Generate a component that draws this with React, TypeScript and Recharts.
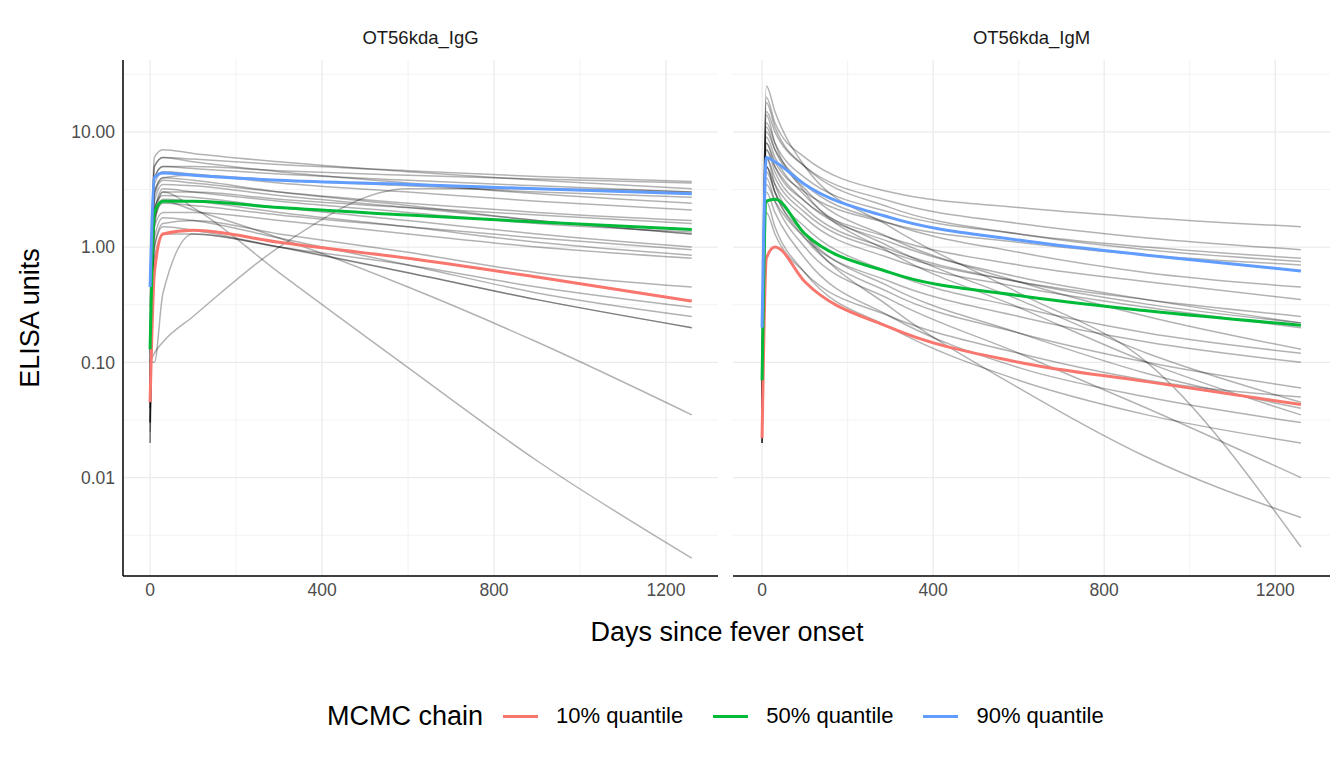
import { CartesianGrid, Line, LineChart, XAxis, YAxis } from "recharts";

const days = [0, 10, 30, 100, 300, 600, 900, 1260];

const iggDraws: number[][] = [
  [0.03, 4, 5, 5, 4.6, 4.2, 3.9, 3.6],
  [0.05, 3, 4, 4.2, 3.8, 3.4, 3.0, 2.7],
  [0.1, 5, 6, 5.8, 5.2, 4.6, 4.1, 3.7],
  [0.02, 2, 3, 3, 2.6, 2.2, 1.9, 1.6],
  [0.06, 1.5, 2, 2, 1.7, 1.3, 1.0, 0.8],
  [0.04, 1, 1.6, 1.7, 1.3, 0.9, 0.6, 0.45],
  [0.08, 2.5, 3.5, 3.4, 2.8, 2.2, 1.7, 1.3],
  [0.2, 6, 7, 6.5, 5.5, 4.5, 3.8, 3.2],
  [0.03, 1.2, 1.8, 1.7, 1.2, 0.7, 0.4, 0.25],
  [0.1, 3.5, 4.5, 4.3, 3.6, 3.0, 2.5, 2.1],
  [0.05, 2.2, 2.8, 2.7, 2.2, 1.7, 1.3, 1.0],
  [0.15, 4, 5, 4.8, 4.3, 3.8, 3.4, 3.0],
  [0.025, 0.8, 1.3, 1.3, 1.0, 0.7, 0.45, 0.3],
  [0.07, 2.8, 3.8, 3.6, 3.0, 2.4, 2.0, 1.7],
  [0.04, 3, 4, 3.8, 3.0, 2.3, 1.7, 1.3],
  [0.3, 5, 6, 5.5, 4.5, 3.6, 2.9, 2.4],
  [0.02, 1.8, 2.6, 2.5, 2.0, 1.5, 1.1, 0.85],
  [0.12, 1.8, 2.4, 2.3, 1.9, 1.5, 1.2, 0.95],
  [0.06, 1, 1.5, 1.4, 1.0, 0.6, 0.35, 0.2],
  [0.03, 2, 3.2, 3.0, 2.5, 2.0, 1.6, 1.35],
  [0.03, 1.5, 3, 2.2, 0.6, 0.09, 0.014, 0.002],
  [0.05, 1.6, 2.5, 2.1, 1.2, 0.45, 0.15, 0.035],
  [0.1, 0.12, 0.15, 0.25, 1.0, 3.2, 3.2, 3.0],
  [0.1, 0.1, 0.4, 1.3, 1.0, 0.6, 0.35, 0.2],
];

const igmDraws: number[][] = [
  [0.02, 8, 5, 2.5, 1.2, 0.7, 0.5, 0.35],
  [0.05, 15, 10, 5, 2.5, 1.6, 1.2, 0.95],
  [0.03, 5, 3, 1.2, 0.4, 0.18, 0.1, 0.06],
  [0.1, 20, 12, 6, 3, 2.2, 1.8, 1.5],
  [0.02, 3, 2, 0.8, 0.25, 0.09, 0.05, 0.03],
  [0.04, 10, 7, 3.5, 1.6, 0.9, 0.6, 0.45],
  [0.06, 6, 4, 2, 0.9, 0.5, 0.35, 0.25],
  [0.03, 4, 2.5, 1, 0.35, 0.12, 0.04, 0.01],
  [0.08, 12, 8, 4, 2, 1.3, 1.0, 0.8],
  [0.02, 2.5, 1.5, 0.6, 0.2, 0.07, 0.035, 0.02],
  [0.04, 7, 5, 2.5, 1.1, 0.55, 0.35, 0.22],
  [0.05, 25, 15, 5, 1.5, 0.4, 0.1, 0.0025],
  [0.03, 9, 6, 2.8, 1.0, 0.35, 0.12, 0.045],
  [0.07, 5, 3.5, 1.8, 0.8, 0.45, 0.3, 0.2],
  [0.02, 3.5, 2.5, 1.2, 0.5, 0.25, 0.15, 0.1],
  [0.05, 8, 5.5, 3, 1.6, 1.1, 0.85, 0.7],
  [0.03, 6, 3.5, 1.3, 0.3, 0.06, 0.015, 0.0045],
  [0.04, 4.5, 3, 1.5, 0.6, 0.3, 0.18, 0.12],
  [0.06, 11, 7, 3.2, 1.2, 0.5, 0.25, 0.13],
  [0.02, 2, 1.3, 0.6, 0.25, 0.12, 0.07, 0.05],
  [0.1, 18, 11, 5, 2.2, 1.3, 0.95, 0.75],
  [0.03, 5, 3, 1.3, 0.45, 0.18, 0.08, 0.04],
  [0.05, 7, 4.5, 2.2, 0.95, 0.5, 0.32, 0.22],
  [0.04, 14, 8, 3, 0.9, 0.3, 0.1, 0.035],
];

const iggQ10 = [0.045, 0.6, 1.3, 1.4, 1.1, 0.8, 0.55, 0.34];
const iggQ50 = [0.13, 2.0, 2.5, 2.5, 2.2, 1.9, 1.65, 1.42];
const iggQ90 = [0.45, 4.0, 4.4, 4.2, 3.8, 3.5, 3.2, 2.9];
const igmQ10 = [0.022, 0.8, 1.0, 0.5, 0.2, 0.1, 0.068, 0.043];
const igmQ50 = [0.07, 2.5, 2.6, 1.3, 0.6, 0.38, 0.28, 0.21];
const igmQ90 = [0.2, 6.0, 5.5, 3.5, 1.8, 1.15, 0.85, 0.62];

const quantiles = [
  { key: "q10", label: "10% quantile", color: "#F8766D" },
  { key: "q50", label: "50% quantile", color: "#00BA38" },
  { key: "q90", label: "90% quantile", color: "#619CFF" },
];

const yTicks = [0.01, 0.1, 1, 10];
const yMinor = [0.00316, 0.0316, 0.316, 3.16, 31.6];
const xTicks = [0, 400, 800, 1200];
const xMinor = [200, 600, 1000];

const font = "'Liberation Sans', Arial, sans-serif";

function buildRows(draws: number[][], q10: number[], q50: number[], q90: number[]) {
  return days.map((day, i) => {
    const row: Record<string, number> = { day, q10: q10[i], q50: q50[i], q90: q90[i] };
    draws.forEach((d, j) => (row[`d${j}`] = d[i]));
    return row;
  });
}

function Panel({ rows, n, width, marginLeft, marginRight, showY, domainX }: {
  rows: Record<string, number>[]; n: number; width: number; marginLeft: number;
  marginRight: number; showY: boolean; domainX: [number, number];
}) {
  const tick = { fill: "#4d4d4d", fontSize: 17.5, fontFamily: font };
  return (
    <LineChart width={width} height={640} data={rows}
      margin={{ top: 60, right: marginRight, left: marginLeft, bottom: 34 }}>
      <CartesianGrid stroke="#ebebeb" strokeWidth={0.6} horizontalValues={yMinor} verticalValues={xMinor} />
      <CartesianGrid stroke="#ebebeb" strokeWidth={1.3} horizontalValues={yTicks} verticalValues={xTicks} />
      <XAxis dataKey="day" type="number" domain={domainX} ticks={xTicks} allowDataOverflow
        height={30} tick={tick} tickLine={false} axisLine={{ stroke: "#000", strokeWidth: 1.5 }} />
      <YAxis scale="log" type="number" domain={[0.0014, 42]} allowDataOverflow ticks={yTicks}
        width={showY ? 63 : 0} hide={!showY} tick={tick} tickLine={false}
        tickFormatter={(v: number) => v.toFixed(2)} axisLine={{ stroke: "#000", strokeWidth: 1.5 }} />
      {Array.from({ length: n }, (_, j) => (
        <Line key={j} dataKey={`d${j}`} type="monotone" stroke="#000" strokeOpacity={0.3}
          strokeWidth={1.5} dot={false} isAnimationActive={false} />
      ))}
      {quantiles.map((q) => (
        <Line key={q.key} dataKey={q.key} type="monotone" stroke={q.color} strokeWidth={3}
          dot={false} isAnimationActive={false} />
      ))}
    </LineChart>
  );
}

export default function App() {
  const iggRows = buildRows(iggDraws, iggQ10, iggQ50, iggQ90);
  const igmRows = buildRows(igmDraws, igmQ10, igmQ50, igmQ90);
  const strip = { position: "absolute" as const, top: 27, fontSize: 18.5, color: "#1a1a1a", textAlign: "center" as const };
  return (
    <div style={{ position: "absolute", left: 0, top: 0, width: 1344, height: 768, background: "#fff", fontFamily: font }}>
      <div style={{ position: "absolute", left: 0, top: 0 }}>
        <Panel rows={iggRows} n={iggDraws.length} width={720} marginLeft={60} marginRight={2} showY domainX={[-63, 1321]} />
      </div>
      <div style={{ position: "absolute", left: 733, top: 0 }}>
        <Panel rows={igmRows} n={igmDraws.length} width={611} marginLeft={0} marginRight={14} showY={false} domainX={[-68, 1328]} />
      </div>
      <div style={{ ...strip, left: 123, width: 595 }}>OT56kda_IgG</div>
      <div style={{ ...strip, left: 733, width: 597 }}>OT56kda_IgM</div>
      <div style={{ position: "absolute", left: 30, top: 318, fontSize: 27, color: "#000",
        transform: "translate(-50%, -50%) rotate(-90deg)", whiteSpace: "nowrap" }}>ELISA units</div>
      <div style={{ position: "absolute", left: 727, top: 632, fontSize: 27, color: "#000",
        transform: "translate(-50%, -50%)", whiteSpace: "nowrap" }}>Days since fever onset</div>
      <div style={{ position: "absolute", left: 327, top: 700, height: 32, display: "flex", alignItems: "center", whiteSpace: "nowrap" }}>
        <span style={{ fontSize: 27, marginRight: 20 }}>MCMC chain</span>
        {quantiles.map((q) => (
          <span key={q.key} style={{ display: "flex", alignItems: "center", marginRight: 30 }}>
            <span style={{ display: "inline-block", width: 35, height: 3, background: q.color, marginRight: 18 }} />
            <span style={{ fontSize: 22 }}>{q.label}</span>
          </span>
        ))}
      </div>
    </div>
  );
}
